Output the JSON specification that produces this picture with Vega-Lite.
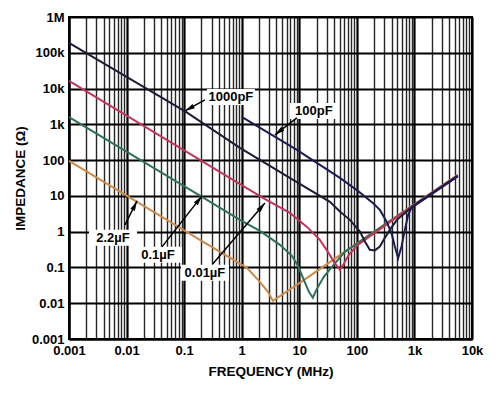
{
  "$schema": "https://vega.github.io/schema/vega-lite/v6.json",
  "width": 403,
  "height": 322,
  "autosize": {"type": "none"},
  "padding": {"left": 69, "top": 17, "right": 28, "bottom": 54},
  "background": "white",
  "config": {
    "view": {"stroke": "black", "strokeWidth": 2},
    "font": "Liberation Sans"
  },
  "datasets": {
    "curves": [
      {"c": "2.2µF", "f": 0.001, "z": 95},
      {"c": "2.2µF", "f": 0.0152, "z": 6.8},
      {"c": "2.2µF", "f": 0.188, "z": 0.59},
      {"c": "2.2µF", "f": 1.23, "z": 0.0975},
      {"c": "2.2µF", "f": 2.07, "z": 0.0396},
      {"c": "2.2µF", "f": 2.85, "z": 0.0208},
      {"c": "2.2µF", "f": 3.48, "z": 0.0117},
      {"c": "2.2µF", "f": 10.2, "z": 0.0372},
      {"c": "2.2µF", "f": 81.9, "z": 0.376},
      {"c": "2.2µF", "f": 832, "z": 4.77},
      {"c": "2.2µF", "f": 5663, "z": 38.6},

      {"c": "0.1µF", "f": 0.001, "z": 1600},
      {"c": "0.1µF", "f": 0.204, "z": 9.38},
      {"c": "0.1µF", "f": 0.931, "z": 2.14},
      {"c": "0.1µF", "f": 2.07, "z": 1.05},
      {"c": "0.1µF", "f": 4.61, "z": 0.428},
      {"c": "0.1µF", "f": 7.44, "z": 0.211},
      {"c": "0.1µF", "f": 9.46, "z": 0.111},
      {"c": "0.1µF", "f": 12.0, "z": 0.0451},
      {"c": "0.1µF", "f": 14.7, "z": 0.0208},
      {"c": "0.1µF", "f": 17.2, "z": 0.0142},
      {"c": "0.1µF", "f": 20.2, "z": 0.0252},
      {"c": "0.1µF", "f": 26.7, "z": 0.0546},
      {"c": "0.1µF", "f": 36.8, "z": 0.104},
      {"c": "0.1µF", "f": 61.9, "z": 0.273},
      {"c": "0.1µF", "f": 832, "z": 4.7},
      {"c": "0.1µF", "f": 5663, "z": 37},

      {"c": "0.01µF", "f": 0.001, "z": 16300},
      {"c": "0.01µF", "f": 2.33, "z": 8.79},
      {"c": "0.01µF", "f": 6.87, "z": 3.35},
      {"c": "0.01µF", "f": 13.6, "z": 1.36},
      {"c": "0.01µF", "f": 22.8, "z": 0.59},
      {"c": "0.01µF", "f": 31.4, "z": 0.273},
      {"c": "0.01µF", "f": 39.9, "z": 0.143},
      {"c": "0.01µF", "f": 50.7, "z": 0.0857},
      {"c": "0.01µF", "f": 59.4, "z": 0.126},
      {"c": "0.01µF", "f": 72.6, "z": 0.225},
      {"c": "0.01µF", "f": 104, "z": 0.428},
      {"c": "0.01µF", "f": 832, "z": 4.62},
      {"c": "0.01µF", "f": 5663, "z": 37.4},

      {"c": "1000pF", "f": 0.001, "z": 188000},
      {"c": "1000pF", "f": 0.1074, "z": 2220},
      {"c": "1000pF", "f": 0.931, "z": 219},
      {"c": "1000pF", "f": 10.2, "z": 21.6},
      {"c": "1000pF", "f": 34.0, "z": 6.8},
      {"c": "1000pF", "f": 50.7, "z": 3.64},
      {"c": "1000pF", "f": 75.6, "z": 2.14},
      {"c": "1000pF", "f": 113, "z": 1.0},
      {"c": "1000pF", "f": 138, "z": 0.529},
      {"c": "1000pF", "f": 168, "z": 0.31},
      {"c": "1000pF", "f": 205, "z": 0.3},
      {"c": "1000pF", "f": 251, "z": 0.384},
      {"c": "1000pF", "f": 306, "z": 0.671},
      {"c": "1000pF", "f": 374, "z": 1.12},
      {"c": "1000pF", "f": 495, "z": 2.14},
      {"c": "1000pF", "f": 832, "z": 4.33},
      {"c": "1000pF", "f": 5663, "z": 35.1},

      {"c": "100pF", "f": 1.0, "z": 1610},
      {"c": "100pF", "f": 9.08, "z": 193},
      {"c": "100pF", "f": 50.7, "z": 31.8},
      {"c": "100pF", "f": 98.8, "z": 14.7},
      {"c": "100pF", "f": 192, "z": 6.25},
      {"c": "100pF", "f": 251, "z": 4.06},
      {"c": "100pF", "f": 328, "z": 1.92},
      {"c": "100pF", "f": 400, "z": 0.908},
      {"c": "100pF", "f": 457, "z": 0.384},
      {"c": "100pF", "f": 521, "z": 0.182},
      {"c": "100pF", "f": 597, "z": 0.384},
      {"c": "100pF", "f": 681, "z": 1.12},
      {"c": "100pF", "f": 778, "z": 2.94},
      {"c": "100pF", "f": 901, "z": 4.93},
      {"c": "100pF", "f": 5663, "z": 36.2}
    ],
    "labels": [
      {"t": "1000pF", "f": 0.649, "z": 5825},
      {"t": "100pF", "f": 17.9, "z": 2367},
      {"t": "2.2µF", "f": 0.00581, "z": 0.671},
      {"t": "0.1µF", "f": 0.0351, "z": 0.225},
      {"t": "0.01µF", "f": 0.2296, "z": 0.0707}
    ],
    "arrows": [
      {"a": "1000pF", "f": 0.1033, "z": 2367, "f2": 0.2296, "z2": 4805},
      {"a": "100pF", "f": 3.77, "z": 506, "f2": 9.08, "z2": 1510},
      {"a": "2.2µF", "f": 0.01518, "z": 7.25, "f2": 0.00938, "z2": 1.55},
      {"a": "0.1µF", "f": 0.204, "z": 10, "f2": 0.0412, "z2": 0.376},
      {"a": "0.01µF", "f": 2.53, "z": 6.37, "f2": 0.316, "z2": 0.126}
    ]
  },
  "encoding": {
    "x": {
      "field": "f",
      "type": "quantitative",
      "scale": {"type": "log", "domain": [0.001, 10000], "nice": false, "zero": false},
      "axis": {
        "title": "FREQUENCY (MHz)",
        "values": [0.001,0.002,0.003,0.004,0.005,0.006,0.007,0.008,0.009,0.01,0.02,0.03,0.04,0.05,0.06,0.07,0.08,0.09,0.1,0.2,0.3,0.4,0.5,0.6,0.7,0.8,0.9,1,2,3,4,5,6,7,8,9,10,20,30,40,50,60,70,80,90,100,200,300,400,500,600,700,800,900,1000,2000,3000,4000,5000,6000,7000,8000,9000,10000],
        "labelExpr": "abs(log(datum.value)/LN10 - round(log(datum.value)/LN10)) < 0.0001 ? (datum.value >= 1000 ? round(datum.value/1000) + 'k' : '' + datum.value) : ''",
        "labelOverlap": false,
        "labelFlush": false,
        "ticks": false,
        "tickSize": 0,
        "domain": true,
        "domainColor": "black",
        "domainWidth": 2,
        "grid": true,
        "gridColor": {"condition": {"test": "abs(log(datum.value)/LN10 - round(log(datum.value)/LN10)) < 0.0001", "value": "#000000"}, "value": "#262626"},
        "gridWidth": {"condition": {"test": "abs(log(datum.value)/LN10 - round(log(datum.value)/LN10)) < 0.0001", "value": 2.2}, "value": 1.4},
        "labelFont": "Liberation Sans",
        "labelFontWeight": "bold",
        "labelFontSize": 13,
        "labelColor": "black",
        "labelPadding": 5,
        "titleFont": "Liberation Sans",
        "titleFontWeight": "bold",
        "titleFontSize": 13.5,
        "titleColor": "black",
        "titlePadding": 7
      }
    },
    "y": {
      "field": "z",
      "type": "quantitative",
      "scale": {"type": "log", "domain": [0.001, 1000000], "nice": false, "zero": false},
      "axis": {
        "title": "IMPEDANCE (Ω)",
        "values": [0.001,0.01,0.1,1,10,100,1000,10000,100000,1000000],
        "labelExpr": "datum.value >= 1000000 ? '1M' : datum.value >= 1000 ? round(datum.value/1000) + 'k' : '' + datum.value",
        "labelOverlap": false,
        "labelFlush": false,
        "ticks": false,
        "tickSize": 0,
        "domain": true,
        "domainColor": "black",
        "domainWidth": 2,
        "grid": true,
        "gridColor": "#000000",
        "gridWidth": 2.2,
        "labelFont": "Liberation Sans",
        "labelFontWeight": "bold",
        "labelFontSize": 13,
        "labelColor": "black",
        "labelPadding": 5,
        "titleFont": "Liberation Sans",
        "titleFontWeight": "bold",
        "titleFontSize": 13.5,
        "titleColor": "black",
        "titlePadding": 4
      }
    }
  },
  "layer": [
    {
      "data": {"name": "curves"},
      "mark": {"type": "line", "strokeWidth": 2, "interpolate": "linear"},
      "encoding": {
        "color": {
          "field": "c",
          "type": "nominal",
          "scale": {
            "domain": ["1000pF", "100pF", "0.01µF", "0.1µF", "2.2µF"],
            "range": ["#1c1c38", "#1c1c55", "#c4345a", "#2d7256", "#cc8a48"]
          },
          "legend": null
        }
      }
    },
    {
      "data": {"name": "labels"},
      "mark": {"type": "point", "shape": "M-1,-0.333L1,-0.333L1,0.333L-1,0.333Z", "filled": true, "color": "white", "opacity": 1, "size": 2304, "strokeWidth": 0}
    },
    {
      "data": {"name": "labels"},
      "mark": {"type": "text", "font": "Liberation Sans", "fontWeight": "bold", "fontSize": 13, "color": "black", "align": "center", "baseline": "middle"},
      "encoding": {"text": {"field": "t", "type": "nominal"}}
    },
    {
      "data": {"name": "arrows"},
      "mark": {"type": "rule", "color": "black", "strokeWidth": 1.5},
      "encoding": {
        "x2": {"field": "f2"},
        "y2": {"field": "z2"}
      }
    },
    {
      "data": {"name": "arrows"},
      "transform": [{"filter": "datum.a == '1000pF'"}],
      "mark": {"type": "point", "shape": "M0,0L0.4,1.6L-0.4,1.6Z", "filled": true, "color": "black", "opacity": 1, "size": 156, "angle": 241}
    },
    {
      "data": {"name": "arrows"},
      "transform": [{"filter": "datum.a == '100pF'"}],
      "mark": {"type": "point", "shape": "M0,0L0.4,1.6L-0.4,1.6Z", "filled": true, "color": "black", "opacity": 1, "size": 156, "angle": 232}
    },
    {
      "data": {"name": "arrows"},
      "transform": [{"filter": "datum.a == '2.2µF'"}],
      "mark": {"type": "point", "shape": "M0,0L0.4,1.6L-0.4,1.6Z", "filled": true, "color": "black", "opacity": 1, "size": 156, "angle": 26}
    },
    {
      "data": {"name": "arrows"},
      "transform": [{"filter": "datum.a == '0.1µF'"}],
      "mark": {"type": "point", "shape": "M0,0L0.4,1.6L-0.4,1.6Z", "filled": true, "color": "black", "opacity": 1, "size": 156, "angle": 38}
    },
    {
      "data": {"name": "arrows"},
      "transform": [{"filter": "datum.a == '0.01µF'"}],
      "mark": {"type": "point", "shape": "M0,0L0.4,1.6L-0.4,1.6Z", "filled": true, "color": "black", "opacity": 1, "size": 156, "angle": 40}
    }
  ]
}
